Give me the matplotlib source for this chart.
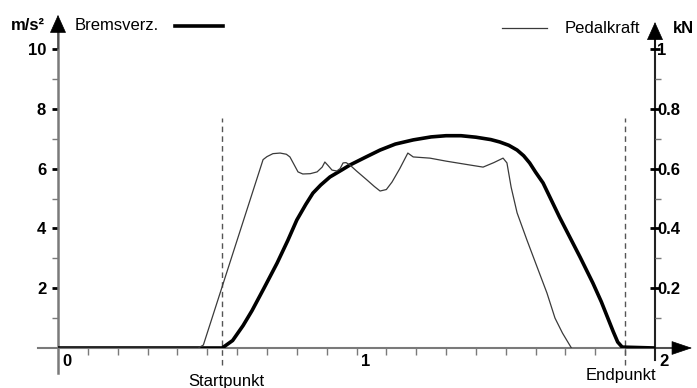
import numpy as np
import matplotlib
matplotlib.use("Agg")
import matplotlib.pyplot as plt

plt.rcParams['font.family'] = ['Liberation Sans', 'DejaVu Sans']

# Bremsverzoegerung in m/s^2 over time (s)
brems_t = [0, 0.55, 0.585, 0.62, 0.65, 0.69, 0.734, 0.77, 0.80, 0.83, 0.854, 0.88,
           0.911, 0.95, 0.978, 1.03, 1.079, 1.13, 1.19, 1.25, 1.30, 1.35, 1.40, 1.45,
           1.48, 1.51, 1.538, 1.56, 1.58, 1.60, 1.625, 1.68, 1.749, 1.792, 1.82, 1.842,
           1.86, 1.875, 1.89, 2.0]
brems_a = [0, 0, 0.25, 0.75, 1.25, 2.0, 2.84, 3.6, 4.28, 4.8, 5.18, 5.45,
           5.72, 5.95, 6.12, 6.38, 6.62, 6.82, 6.96, 7.06, 7.1, 7.1, 7.05, 6.97,
           6.89, 6.78, 6.62, 6.43, 6.19, 5.88, 5.52, 4.38, 3.04, 2.17, 1.55, 1.0,
           0.55, 0.2, 0.03, 0.0]

# Pedalkraft in kN
pedal_t = [0, 0.47, 0.487, 0.687, 0.70, 0.72, 0.744, 0.765, 0.777, 0.79, 0.804, 0.82,
           0.845, 0.868, 0.885, 0.894, 0.905, 0.918, 0.934, 0.945, 0.955, 0.965, 0.978,
           1.0, 1.035, 1.06, 1.079, 1.10, 1.119, 1.145, 1.172, 1.19, 1.246, 1.30, 1.38,
           1.424, 1.46, 1.491, 1.504, 1.518, 1.538, 1.571, 1.605, 1.638, 1.665, 1.69, 1.72]
pedal_f = [0, 0, 0.01, 0.63, 0.64, 0.65, 0.652, 0.648, 0.639, 0.615, 0.589, 0.582,
           0.583, 0.589, 0.605, 0.622, 0.61, 0.595, 0.592, 0.60, 0.619, 0.62, 0.612,
           0.592, 0.562, 0.54, 0.525, 0.53, 0.555, 0.60, 0.652, 0.639, 0.635, 0.625, 0.612,
           0.605, 0.62, 0.635, 0.619, 0.538, 0.452, 0.361, 0.271, 0.184, 0.10, 0.05, 0.0]

start_t = 0.549
end_t = 1.90
left_ticks = [2, 4, 6, 8, 10]
right_ticks = [0.2, 0.4, 0.6, 0.8, 1.0]
right_labels = ['0.2', '0.4', '0.6', '0.8', '1']
x_label_pos = [0, 1, 2]
x_labels = ['0', '1', '2']

W, H = 697, 388
fig = plt.figure(figsize=(W / 100, H / 100), dpi=100)
ax = fig.add_axes([58 / W, 40 / H, 597 / W, 299 / H])
ax2 = ax.twinx()

ax.set_xlim(0, 2)
ax.set_ylim(0, 10)
ax2.set_ylim(0, 1)
for a in (ax, ax2):
    for s in a.spines.values():
        s.set_visible(False)
    a.patch.set_visible(False)

ax.plot(brems_t, brems_a, color='black', lw=2.6, solid_capstyle='butt', zorder=4)
ax2.plot(pedal_t, pedal_f, color='#3a3a3a', lw=0.9, zorder=3)

for t in (start_t, end_t):
    ax.plot([t, t], [-0.57, 7.7], color='#555555', lw=1, ls=(0, (4, 3)), clip_on=False, zorder=2)

# axis lines
gray = '#7a7a7a'
ax.plot([0, 0], [-0.084, 1.06], color=gray, lw=1.8, transform=ax.transAxes, clip_on=False)
ax.plot([-0.034, 1.04], [0, 0], color=gray, lw=1.5, transform=ax.transAxes, clip_on=False)
ax.plot([1, 1], [-0.04, 1.04], color='#222222', lw=1.5, transform=ax.transAxes, clip_on=False)


def head(x0, y0, x1, y1, hl=0.6, hw=0.27):
    ax.annotate('', xy=(x1, y1), xytext=(x0, y0), xycoords='axes fraction',
                textcoords='axes fraction', annotation_clip=False,
                arrowprops=dict(arrowstyle=f'-|>,head_length={hl},head_width={hw}',
                                mutation_scale=20, color='black', lw=0.5,
                                shrinkA=0, shrinkB=0))


head(0, 1.0, 0, 1.114)
head(1, 1.0, 1, 1.09)
head(0.95, 0, 1.062, 0, hl=0.68, hw=0.23)

# ticks
ax.set_xticks(np.arange(1, 20) / 10)
ax.tick_params(axis='x', direction='out', length=5, width=1, color=gray, labelbottom=False)
ax.set_yticks(left_ticks)
ax.set_yticks([1, 3, 5, 7, 9], minor=True)
ax.tick_params(axis='y', which='major', direction='out', length=4.5, width=2, color='black',
               labelsize=12, pad=4)
ax.tick_params(axis='y', which='minor', direction='out', length=4.5, width=1, color=gray)
for lb in ax.get_yticklabels():
    lb.set_fontweight('bold')

ax2.set_yticks(right_ticks)
ax2.set_yticklabels(right_labels, fontweight='bold')
ax2.set_yticks([0.1, 0.3, 0.5, 0.7, 0.9], minor=True)
ax2.tick_params(axis='y', which='major', direction='inout', length=7, width=2, color='black',
                labelsize=12, pad=-2)
ax2.tick_params(axis='y', which='minor', direction='out', length=4.5, width=1, color=gray)

for v, s in zip(x_label_pos, x_labels):
    ax.annotate(s, xy=(v, 0), xytext=(3, -4), textcoords='offset points',
                ha='left', va='top', fontsize=12, fontweight='bold', annotation_clip=False)

# header texts and legend
ax.text(-0.022, 1.08, 'm/s²', transform=ax.transAxes, ha='right', va='center',
        fontsize=12, fontweight='bold')
ax.text(0.0285, 1.08, 'Bremsverz.', transform=ax.transAxes, ha='left', va='center', fontsize=12)
ax.plot([0.196, 0.276], [1.077, 1.077], color='black', lw=2.6, transform=ax.transAxes, clip_on=False)
ax.text(0.975, 1.07, 'Pedalkraft', transform=ax.transAxes, ha='right', va='center', fontsize=12)
ax.plot([0.744, 0.819], [1.07, 1.07], color='#3a3a3a', lw=0.9, transform=ax.transAxes, clip_on=False)
ax.text(1.030, 1.07, 'kN', transform=ax.transAxes, ha='left', va='center',
        fontsize=12, fontweight='bold')

ax.annotate('Startpunkt', xy=(start_t, 0), xytext=(3, -24), textcoords='offset points',
            ha='center', va='center', fontsize=12, annotation_clip=False)
ax.annotate('Endpunkt', xy=(end_t, 0), xytext=(-3, -20), textcoords='offset points',
            ha='center', va='center', fontsize=12, annotation_clip=False)

fig.savefig('out.png', dpi=100)
